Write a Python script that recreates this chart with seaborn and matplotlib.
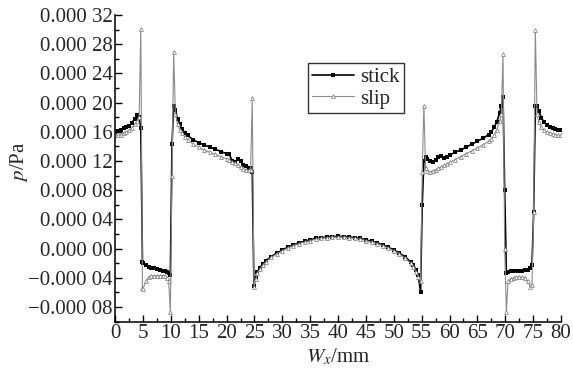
import numpy as np
import pandas as pd
import seaborn as sns
import matplotlib.pyplot as plt
from matplotlib.ticker import MultipleLocator, FuncFormatter

# positions along W_x (mm), shared by both series
wx = [0, 0.5, 1, 1.5, 2, 2.5, 3, 3.5, 4, 4.3, 4.6, 4.9,
      5.0, 5.5, 6, 6.5, 7, 7.5, 8, 8.5, 9, 9.3, 9.6, 9.9,
      10.2, 10.5, 10.8, 11.2, 11.6, 12, 12.5, 13, 14, 15, 16, 17,
      18, 19, 20, 20.5, 21, 21.5, 22, 22.5, 23, 23.5, 24, 24.3,
      24.6, 24.9, 25.2, 25.5, 26, 26.5, 27, 28, 29, 30, 31, 32,
      33, 34, 35, 36, 37, 38, 39, 40, 41, 42, 43, 44,
      45, 46, 47, 48, 49, 50, 51, 52, 53, 53.5, 54, 54.4,
      54.8, 55.1, 55.4, 55.7, 56, 56.5, 57, 57.5, 58, 58.5, 59, 59.5,
      60, 61, 62, 63, 64, 65, 66, 67, 67.5, 68, 68.5, 69,
      69.3, 69.6, 69.9, 70.2, 70.5, 71, 71.5, 72, 72.5, 73, 73.5, 74,
      74.5, 74.8, 75.1, 75.4, 75.7, 76, 76.5, 77, 77.5, 78, 78.5, 79,
      79.5, 80]

# pressure, in units of 1e-5 Pa
stick = [16.0, 16.1, 16.3, 16.5, 16.6, 16.8, 17.2, 17.8, 18.3, 18.0, 16.5, -1.9,
         -2.0, -2.3, -2.5, -2.6, -2.7, -2.8, -2.9, -3.0, -3.1, -3.2, -3.4, -3.6,
         14.3, 19.6, 19.0, 17.8, 17.0, 16.4, 15.9, 15.5, 14.9, 14.5, 14.2, 13.9,
         13.6, 13.3, 13.0, 12.9, 12.0, 11.9, 12.3, 12.0, 11.5, 11.3, 11.1, 11.0,
         10.5, -5.1, -4.0, -3.2, -2.6, -2.1, -1.7, -1.1, -0.6, -0.2, 0.2, 0.5,
         0.8, 1.0, 1.2, 1.4, 1.5, 1.6, 1.65, 1.7, 1.65, 1.6, 1.5, 1.4,
         1.2, 1.0, 0.8, 0.5, 0.2, -0.2, -0.6, -1.1, -1.8, -2.3, -2.9, -3.6,
         -6.0, 6.0, 12.0, 12.5, 12.3, 12.0, 11.9, 12.2, 12.6, 12.7, 12.4, 12.5,
         12.8, 13.2, 13.5, 13.9, 14.3, 14.7, 15.1, 15.6, 16.0, 16.6, 17.4, 18.6,
         19.6, 20.8, 8.0, -3.3, -3.2, -3.1, -3.0, -3.1, -3.0, -3.0, -2.9, -2.9,
         -2.6, -2.2, 5.0, 19.6, 19.6, 18.9, 17.9, 17.3, 16.9, 16.7, 16.5, 16.4,
         16.3, 16.2]

slip = [15.5, 15.5, 15.6, 15.8, 16.0, 16.2, 16.5, 17.0, 17.5, 18.0, 30.1, -5.4,
        -5.5, -4.5, -3.9, -3.8, -3.7, -3.7, -3.7, -3.7, -3.8, -4.0, -4.4, -8.7,
        10.0, 26.9, 18.5, 17.0, 16.3, 15.8, 15.3, 14.9, 14.3, 13.9, 13.5, 13.2,
        12.9, 12.6, 12.3, 12.1, 11.9, 11.7, 11.5, 11.2, 10.9, 10.8, 10.7, 10.7,
        20.6, -5.2, -4.2, -3.4, -2.8, -2.3, -1.9, -1.2, -0.7, -0.3, 0.1, 0.4,
        0.7, 0.9, 1.1, 1.3, 1.4, 1.5, 1.55, 1.6, 1.55, 1.5, 1.4, 1.3,
        1.1, 0.9, 0.7, 0.4, 0.1, -0.3, -0.7, -1.3, -2.0, -2.5, -3.2, -3.9,
        -4.5, 10.5, 19.6, 11.0, 10.6, 10.5, 10.6, 10.8, 11.0, 11.2, 11.4, 11.6,
        11.8, 12.2, 12.6, 13.0, 13.4, 13.8, 14.2, 14.7, 15.0, 15.5, 16.3, 17.5,
        18.5, 26.6, 0.0, -8.7, -4.5, -4.1, -4.0, -3.9, -3.9, -3.9, -4.0, -4.4,
        -5.2, -5.0, 5.0, 30.0, 18.5, 17.3, 16.6, 16.2, 16.0, 15.8, 15.7, 15.6,
        15.5, 15.5]


def p_label(v, pos):
    s = "%.5f" % abs(v)
    s = s[:5] + " " + s[5:]
    if v < -1e-9:
        s = "\u2212" + s
    return s


def main():
    df = pd.DataFrame({"wx": wx,
                       "stick": np.array(stick) * 1e-5,
                       "slip": np.array(slip) * 1e-5})

    sns.set_style("ticks")
    plt.rcParams["font.family"] = ["Liberation Serif", "DejaVu Serif"]
    plt.rcParams["mathtext.fontset"] = "stix"

    fig = plt.figure(figsize=(5.73, 3.74), dpi=100)
    ax = fig.add_axes([0.201, 0.140, 0.778, 0.820])

    sns.lineplot(data=df, x="wx", y="stick", ax=ax, color="black", lw=1.2,
                 marker="s", markersize=2.3, markeredgewidth=0, label="stick")
    sns.lineplot(data=df, x="wx", y="slip", ax=ax, color="#8c8c8c", lw=0.8,
                 marker="^", markersize=2.8, markeredgewidth=0.5,
                 markerfacecolor="white", markeredgecolor="#777777", label="slip")

    ax.set_xlim(0, 80)
    ax.set_ylim(-0.0001, 0.00032)
    ax.xaxis.set_major_locator(MultipleLocator(5))
    ax.xaxis.set_minor_locator(MultipleLocator(2.5))
    ax.yaxis.set_major_locator(MultipleLocator(0.00004))
    ax.yaxis.set_minor_locator(MultipleLocator(0.00002))
    ax.yaxis.set_major_formatter(FuncFormatter(p_label))

    ax.tick_params(which="both", direction="in", color="black", width=1,
                   labelsize=15, pad=2)
    ax.tick_params(which="major", length=5)
    ax.tick_params(which="minor", length=3)
    for side in ["left", "bottom"]:
        ax.spines[side].set_color("black")
        ax.spines[side].set_linewidth(1.1)
    sns.despine(ax=ax)

    ax.set_xlabel("$W_x$/mm", fontsize=15, labelpad=2)
    ax.set_ylabel("$p$/Pa", fontsize=15)
    ax.yaxis.set_label_coords(-0.19, 0.52)

    leg = ax.legend(loc="upper left", bbox_to_anchor=(0.433, 0.843),
                    frameon=True, fancybox=False, fontsize=15,
                    handlelength=2.0, handletextpad=0.3, borderpad=0.2,
                    labelspacing=0.1, borderaxespad=0)
    leg.get_frame().set_edgecolor("black")
    leg.get_frame().set_linewidth(1)

    fig.savefig("out.png", dpi=100)


if __name__ == "__main__":
    main()
